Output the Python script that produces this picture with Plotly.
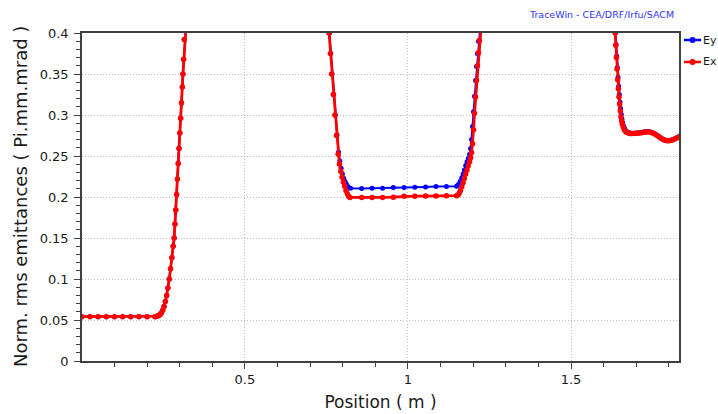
import plotly.graph_objects as go

# ---------------- data ----------------
# Ex (red) : position in m, emittance in Pi.mm.mrad
pos_ex = [0.0, 0.025, 0.05, 0.075, 0.1, 0.125, 0.15, 0.175, 0.2, 0.224,
          0.228, 0.232, 0.236, 0.240, 0.244, 0.248, 0.252, 0.256, 0.260, 0.264,
          0.268, 0.272, 0.276, 0.280, 0.283, 0.2855, 0.288, 0.2905, 0.293, 0.2955,
          0.298, 0.3005, 0.303, 0.3055, 0.308, 0.310, 0.312, 0.314, 0.316, 0.320,
          0.34, 0.40, 0.50, 0.60, 0.70, 0.750, 0.755,
          0.758, 0.762, 0.766, 0.771, 0.776, 0.781, 0.786, 0.790, 0.794, 0.798,
          0.802, 0.806, 0.810, 0.814, 0.818, 0.822,
          0.858, 0.890, 0.922, 0.955, 0.988, 1.021, 1.054, 1.086, 1.118, 1.149,
          1.153, 1.157, 1.161, 1.165, 1.169, 1.173, 1.177, 1.181, 1.185, 1.189,
          1.192, 1.195, 1.198, 1.201, 1.204, 1.207, 1.210, 1.213, 1.216, 1.219,
          1.222, 1.225, 1.23, 1.30, 1.40, 1.50, 1.60, 1.628, 1.632,
          1.635, 1.637, 1.639, 1.641, 1.643, 1.645, 1.647, 1.649, 1.651, 1.653,
          1.655, 1.657, 1.660, 1.663, 1.666, 1.670, 1.675, 1.680, 1.686, 1.692,
          1.698, 1.704, 1.710, 1.716, 1.722, 1.728, 1.734, 1.740, 1.746, 1.752,
          1.758, 1.764, 1.770, 1.776, 1.782, 1.788, 1.794, 1.800, 1.806, 1.812,
          1.818, 1.824, 1.830, 1.836]
ex = [0.054, 0.054, 0.054, 0.054, 0.054, 0.054, 0.054, 0.054, 0.054, 0.054,
      0.0543, 0.0548, 0.0556, 0.0568, 0.0588, 0.0620, 0.0665, 0.0725, 0.0800, 0.0890,
      0.1000, 0.1125, 0.1260, 0.1400, 0.150, 0.167, 0.184, 0.203, 0.222, 0.241,
      0.259, 0.278, 0.296, 0.315, 0.334, 0.350, 0.368, 0.392, 0.412, 0.440,
      0.55, 0.90, 1.40, 1.10, 0.60, 0.45, 0.415,
      0.400, 0.375, 0.350, 0.325, 0.300, 0.275, 0.252, 0.240, 0.231, 0.224,
      0.218, 0.213, 0.208, 0.204, 0.201, 0.1995,
      0.1993, 0.1994, 0.1995, 0.1998, 0.2008, 0.2010, 0.2011, 0.2012, 0.2014, 0.2016,
      0.2025, 0.2045, 0.2080, 0.2125, 0.2175, 0.2225, 0.2280, 0.2330, 0.2380, 0.2430,
      0.2480, 0.2540, 0.2650, 0.2820, 0.3020, 0.3220, 0.3420, 0.3600, 0.3760, 0.3910,
      0.4060, 0.4220, 0.46, 0.80, 1.20, 0.90, 0.50, 0.450, 0.420,
      0.400, 0.385, 0.370, 0.356, 0.343, 0.332, 0.322, 0.313, 0.305, 0.298,
      0.293, 0.289, 0.2855, 0.2825, 0.2805, 0.2790, 0.2780, 0.2775, 0.2773, 0.2774,
      0.2776, 0.2778, 0.2781, 0.2785, 0.2789, 0.2792, 0.2793, 0.2792, 0.2787, 0.2778,
      0.2765, 0.2750, 0.2733, 0.2716, 0.2702, 0.2692, 0.2687, 0.2687, 0.2690, 0.2697,
      0.2707, 0.2719, 0.2733, 0.2745]

# Ey (blue)
pos_ey = [0.0, 0.025, 0.05, 0.075, 0.1, 0.125, 0.15, 0.175, 0.2, 0.224,
          0.228, 0.232, 0.236, 0.240, 0.244, 0.248, 0.252, 0.256, 0.260, 0.264,
          0.268, 0.272, 0.276, 0.280, 0.283, 0.2855, 0.288, 0.2905, 0.293, 0.2955,
          0.298, 0.3005, 0.303, 0.3055, 0.308, 0.310, 0.312, 0.314, 0.316, 0.320,
          0.34, 0.40, 0.50, 0.60, 0.70, 0.751, 0.756,
          0.759, 0.763, 0.767, 0.772, 0.777, 0.782, 0.787, 0.791, 0.795, 0.799,
          0.803, 0.807, 0.811, 0.815, 0.819, 0.824,
          0.858, 0.890, 0.922, 0.955, 0.988, 1.021, 1.054, 1.086, 1.118, 1.149,
          1.153, 1.157, 1.161, 1.165, 1.169, 1.173, 1.177, 1.181, 1.185, 1.189,
          1.192, 1.195, 1.198, 1.201, 1.204, 1.207, 1.210, 1.213, 1.216, 1.219,
          1.222, 1.226, 1.23, 1.30, 1.40, 1.50, 1.60, 1.629, 1.633,
          1.636, 1.638, 1.640, 1.642, 1.644, 1.646, 1.648, 1.650, 1.652, 1.654,
          1.656, 1.658, 1.661, 1.664, 1.667, 1.671, 1.676, 1.681, 1.686, 1.692,
          1.698, 1.704, 1.710, 1.716, 1.722, 1.728, 1.734, 1.740, 1.746, 1.752,
          1.758, 1.764, 1.770, 1.776, 1.782, 1.788, 1.794, 1.800, 1.806, 1.812,
          1.818, 1.824, 1.830, 1.836]
ey = [0.054, 0.054, 0.054, 0.054, 0.054, 0.054, 0.054, 0.054, 0.054, 0.054,
      0.0543, 0.0548, 0.0556, 0.0568, 0.0588, 0.0620, 0.0665, 0.0725, 0.0800, 0.0890,
      0.1000, 0.1125, 0.1260, 0.1400, 0.150, 0.167, 0.184, 0.203, 0.222, 0.241,
      0.259, 0.278, 0.296, 0.315, 0.334, 0.350, 0.368, 0.392, 0.412, 0.440,
      0.55, 0.90, 1.40, 1.10, 0.60, 0.45, 0.415,
      0.400, 0.375, 0.350, 0.325, 0.300, 0.276, 0.255, 0.244, 0.235, 0.228,
      0.223, 0.219, 0.216, 0.213, 0.2113, 0.2106,
      0.2104, 0.2106, 0.2107, 0.2115, 0.2117, 0.2120, 0.2122, 0.2127, 0.2128, 0.2130,
      0.2145, 0.2165, 0.2195, 0.2235, 0.2280, 0.2330, 0.2385, 0.2430, 0.2470, 0.2520,
      0.2590, 0.2700, 0.2860, 0.3040, 0.3230, 0.3420, 0.3590, 0.3750, 0.3900, 0.4050,
      0.4210, 0.4400, 0.46, 0.80, 1.20, 0.90, 0.50, 0.450, 0.420,
      0.400, 0.386, 0.372, 0.358, 0.346, 0.335, 0.325, 0.316, 0.308, 0.301,
      0.295, 0.291, 0.2870, 0.2838, 0.2815, 0.2798, 0.2786, 0.2780, 0.2777, 0.2777,
      0.2779, 0.2781, 0.2784, 0.2788, 0.2792, 0.2795, 0.2796, 0.2795, 0.2790, 0.2781,
      0.2768, 0.2753, 0.2736, 0.2719, 0.2705, 0.2695, 0.2690, 0.2690, 0.2693, 0.2700,
      0.2710, 0.2722, 0.2736, 0.2748]

series_names = ["Ey", "Ex"]
series_colors = ["#0000ff", "#ff0000"]

x_tickvals = [0.5, 1, 1.5]
x_ticktext = ["0.5", "1", "1.5"]
y_tickvals = [0, 0.05, 0.1, 0.15, 0.2, 0.25, 0.3, 0.35, 0.4]
y_ticktext = ["0", "0.05", "0.1", "0.15", "0.2", "0.25", "0.3", "0.35", "0.4"]

# ---------------- figure ----------------
FONT = "DejaVu Sans"
W, H = 718, 414
ML, MR, MT, MB = 82, 39, 33, 53
PW, PH = W - ML - MR, H - MT - MB


def px_x(p):
    return (p - ML) / PW


def px_y(p):
    return (H - MB - p) / PH


fig = go.Figure()
fig.add_trace(go.Scatter(
    x=pos_ey, y=ey, name=series_names[0], mode="lines+markers",
    line=dict(color=series_colors[0], width=2),
    marker=dict(color=series_colors[0], size=5),
))
fig.add_trace(go.Scatter(
    x=pos_ex, y=ex, name=series_names[1], mode="lines+markers",
    line=dict(color=series_colors[1], width=2.8),
    marker=dict(color=series_colors[1], size=5.5),
))

axis_common = dict(
    showline=True, linecolor="#404040", linewidth=1.5, mirror=True,
    ticks="outside", tickcolor="#404040", ticklen=6, tickwidth=1,
    showgrid=True, gridcolor="#bcbcbc", griddash="1px,2px", gridwidth=1,
    zeroline=False,
    tickfont=dict(family=FONT, size=13, color="#1a1a1a"),
)

fig.update_xaxes(
    range=[0.0005, 1.831], tickvals=x_tickvals, ticktext=x_ticktext,
    minor=dict(dtick=0.1, tick0=0, ticks="outside", ticklen=4, tickcolor="#404040",
               showgrid=False),
    title=dict(text="Position ( m )", font=dict(family=FONT, size=17, color="#1a1a1a"),
               standoff=10),
    **axis_common,
)
fig.update_yaxes(
    range=[0, 0.4], tickvals=y_tickvals, ticktext=y_ticktext,
    minor=dict(dtick=0.01, tick0=0, ticks="outside", ticklen=4, tickcolor="#404040",
               showgrid=False),
    ticklabelstandoff=3,
    **axis_common,
)

# legend drawn manually at the right edge, as in the reference
shapes = []
annotations = []
legend_rows_px = [40, 62]
for name, col, ry in zip(series_names, series_colors, legend_rows_px):
    shapes.append(dict(type="line", xref="paper", yref="paper",
                       x0=px_x(684), x1=px_x(701), y0=px_y(ry), y1=px_y(ry),
                       line=dict(color=col, width=2.5)))
    shapes.append(dict(type="circle", xref="paper", yref="paper",
                       xsizemode="pixel", ysizemode="pixel",
                       xanchor=px_x(692.5), yanchor=px_y(ry),
                       x0=-3, x1=3, y0=-3, y1=3,
                       fillcolor=col, line=dict(color=col, width=0)))
    annotations.append(dict(text=name, xref="paper", yref="paper",
                            x=px_x(702), y=px_y(ry), xanchor="left", yanchor="middle",
                            showarrow=False, borderpad=0,
                            font=dict(family=FONT, size=11, color="#1a1a1a")))

annotations.append(dict(text="Norm. rms emittances ( Pi.mm.mrad )", xref="paper", yref="paper",
                        x=px_x(20), y=0.5, xanchor="center", yanchor="middle",
                        textangle=-90, showarrow=False,
                        font=dict(family=FONT, size=18, color="#1a1a1a")))
annotations.append(dict(text="TraceWin - CEA/DRF/Irfu/SACM", xref="paper", yref="paper",
                        x=px_x(676), y=px_y(15), xanchor="right", yanchor="middle",
                        showarrow=False,
                        font=dict(family=FONT, size=9.5, color="#3333ff")))

fig.update_layout(
    width=W, height=H,
    margin=dict(l=ML, r=MR, t=MT, b=MB, pad=0, autoexpand=False),
    paper_bgcolor="white", plot_bgcolor="white",
    showlegend=False,
    shapes=shapes,
    annotations=annotations,
)

fig.write_html("out.html")
